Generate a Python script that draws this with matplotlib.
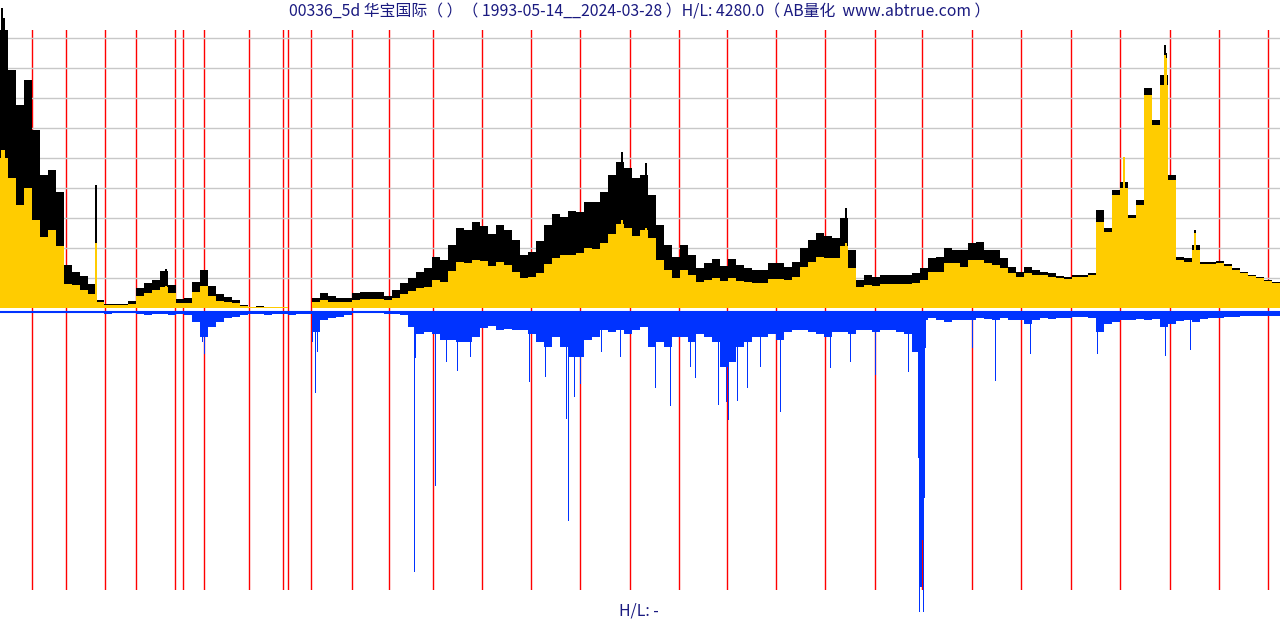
import numpy as np
import matplotlib
matplotlib.use("Agg")
import matplotlib.pyplot as plt

plt.rcParams['font.family'] = ['Noto Sans CJK SC', 'DejaVu Sans']

# 标题和文字
title = "00336_5d 华宝国际（ ）（ 1993-05-14__2024-03-28 ）H/L: 4280.0（ AB量化  www.abtrue.com ）"
footer = "H/L: -"

# 每8根5日K线一组的最高价 / 收盘价
step = 8
high = [
    27.8, 23.8, 20.3, 22.8, 17.8, 13.3, 13.8, 11.6, 4.3, 3.6,
    3.2, 2.4, 0.8, 0.45, 0.45, 0.45, 0.7, 2.0, 2.5, 2.8,
    3.7, 2.3, 0.9, 1.0, 2.6, 3.8, 2.2, 1.4, 1.1, 0.8,
    0.35, 0.15, 0.2, 0.1, 0.08, 0.08, 0.05, 0.05, 0.05, 1.0,
    1.5, 1.2, 1.0, 1.0, 1.5, 1.6, 1.6, 1.6, 1.2, 1.8,
    2.5, 3.0, 3.6, 4.0, 5.1, 4.8, 6.3, 8.0, 7.8, 8.6,
    8.2, 7.4, 8.3, 7.8, 6.8, 5.3, 5.6, 6.7, 8.3, 9.4,
    9.1, 9.7, 9.6, 10.6, 10.6, 11.6, 13.3, 14.6, 14.0, 13.0,
    13.3, 11.3, 8.3, 6.3, 5.1, 6.3, 5.3, 4.0, 4.5, 4.9,
    4.2, 4.9, 4.3, 4.0, 3.8, 3.8, 4.5, 4.5, 4.1, 4.6,
    6.0, 6.8, 7.5, 7.2, 7.0, 9.0, 5.8, 2.8, 3.3, 3.1,
    3.3, 3.3, 3.3, 3.3, 3.5, 4.0, 5.0, 5.1, 6.0, 5.8,
    5.8, 6.5, 6.6, 5.8, 5.8, 5.0, 4.1, 3.6, 4.1, 3.8,
    3.6, 3.5, 3.2, 3.1, 3.3, 3.3, 3.5, 9.8, 8.0, 11.8,
    12.6, 9.3, 10.8, 22.0, 18.8, 23.3, 13.3, 5.1, 5.0, 6.3,
    4.6, 4.6, 4.7, 4.4, 4.0, 3.6, 3.3, 3.1, 2.8, 2.6,
]
close = [
    15.0, 13.0, 10.3, 12.0, 8.8, 7.1, 7.8, 6.2, 2.4, 2.3,
    1.8, 1.4, 0.6, 0.3, 0.3, 0.3, 0.4, 1.2, 1.5, 1.8,
    2.1, 1.5, 0.5, 0.5, 1.6, 2.2, 1.2, 0.7, 0.6, 0.5,
    0.2, 0.1, 0.12, 0.08, 0.06, 0.06, 0.05, 0.05, 0.05, 0.6,
    0.8, 0.6, 0.6, 0.6, 0.8, 0.9, 0.9, 0.9, 0.8, 1.0,
    1.4, 1.7, 2.0, 2.1, 2.8, 2.6, 3.7, 4.6, 4.5, 4.8,
    4.7, 4.2, 4.6, 4.3, 3.6, 3.0, 3.1, 3.5, 4.4, 5.0,
    5.3, 5.3, 5.5, 6.0, 5.9, 6.5, 7.4, 8.4, 8.0, 7.2,
    7.8, 7.0, 4.8, 3.8, 3.0, 3.8, 3.3, 2.6, 2.8, 3.0,
    2.7, 3.0, 2.7, 2.6, 2.5, 2.5, 2.9, 2.9, 2.8, 3.1,
    4.1, 4.6, 5.1, 5.0, 5.0, 6.2, 4.0, 2.1, 2.3, 2.2,
    2.4, 2.4, 2.4, 2.4, 2.5, 2.8, 3.6, 3.6, 4.5, 4.5,
    4.1, 4.8, 4.8, 4.5, 4.3, 4.0, 3.5, 3.1, 3.5, 3.3,
    3.3, 3.1, 3.0, 2.9, 3.1, 3.1, 3.3, 8.6, 7.6, 11.3,
    12.0, 9.0, 10.3, 21.3, 18.3, 22.3, 12.8, 4.8, 4.6, 5.8,
    4.4, 4.4, 4.5, 4.2, 3.8, 3.5, 3.2, 3.0, 2.7, 2.5,
]

# 单根尖峰 (K线序号, 最高, 收盘)
spike_x = [1, 3, 95, 165, 621, 645, 845, 1123, 1164, 1165, 1194]
spike_hi = [30.0, 29.0, 12.3, 3.9, 15.6, 14.5, 10.0, 15.1, 26.3, 25.5, 7.8]
spike_cl = [15.8, 15.8, 6.5, 2.2, 8.8, 8.0, 6.5, 15.1, 25.3, 25.0, 7.5]

# 成交量 (每8根一组)
vol = [
    1, 1, 0.5, 1, 0.5, 0.5, 0.5, 0.5, 1, 0.5,
    0.5, 1, 1, 2, 1, 1, 1, 2, 3, 2,
    2, 3, 2, 3, 10, 25, 15, 10, 6, 5,
    3, 2, 2, 3, 2, 2, 3, 2, 2, 20,
    8, 6, 5, 3, 1, 1, 1, 1, 2, 2,
    3, 15, 22, 20, 22, 28, 28, 30, 30, 25,
    16, 14, 18, 17, 18, 18, 22, 30, 35, 25,
    35, 45, 45, 28, 25, 18, 20, 18, 22, 18,
    15, 35, 30, 35, 25, 25, 30, 22, 25, 30,
    55, 50, 35, 30, 25, 25, 22, 28, 20, 18,
    18, 20, 22, 25, 20, 20, 22, 18, 18, 20,
    18, 18, 20, 22, 40, 8, 6, 8, 10, 8,
    8, 8, 6, 7, 8, 6, 8, 8, 12, 8,
    6, 7, 6, 6, 5, 5, 6, 20, 12, 10,
    8, 8, 7, 8, 7, 15, 12, 9, 8, 10,
    7, 6, 6, 5, 5, 4, 4, 4, 4, 4,
]
vspike_x = [202, 204, 312, 315, 317, 414, 415, 435, 446, 457, 470, 529, 545,
            566, 568, 574, 580, 601, 620, 655, 670, 690, 695, 718, 726, 728,
            737, 747, 760, 780, 830, 850, 875, 908, 918, 919, 920, 921, 922,
            923, 924, 925, 972, 995, 1030, 1097, 1165, 1190]
vspike_v = [30, 42, 30, 81, 40, 260, 46, 174, 50, 59, 45, 70, 65,
            107, 209, 85, 72, 40, 45, 76, 94, 55, 66, 93, 90, 108,
            89, 76, 55, 100, 56, 50, 63, 60, 146, 300, 275, 275, 228,
            300, 186, 36, 36, 69, 42, 42, 44, 38]

# 每年第一根K线的位置
year_x = [32, 66, 105, 136, 175, 183, 204, 249, 283, 288, 311, 352, 389, 433,
          482, 531, 580, 630, 679, 727, 776, 825, 875, 922, 972, 1021, 1071,
          1120, 1170, 1219, 1268]

n = len(high) * step
edges = np.arange(0, n + 1, step)

W, H = 1280, 620
fig = plt.figure(figsize=(W / 100, H / 100), dpi=100)

# 年份分隔线 (画在最底层)
ax_bg = fig.add_axes([0, (H - 590) / H, 1, 560 / H])
ax_bg.set_xlim(0, n)
for xv in year_x:
    ax_bg.axvline(xv, color='#ff0000', lw=1)
ax_bg.axis('off')

# 价格
ax = fig.add_axes([0, (H - 308) / H, 1, 308 / H])
ax.patch.set_alpha(0)
ax.set_xlim(0, n)
ax.set_ylim(0, 30.8)
ax.set_yticks(np.arange(3, 28, 3))
ax.grid(axis='y', color='#c8c8c8', lw=1)
ax.set_axisbelow(True)
ax.stairs(high, edges, fill=True, color='black', lw=0)
ax.bar(spike_x, spike_hi, width=1.5, align='edge', color='black', lw=0)
ax.stairs(close, edges, fill=True, color='#ffcc00', lw=0)
ax.bar(spike_x, spike_cl, width=1.5, align='edge', color='#ffcc00', lw=0)
ax.tick_params(left=False, bottom=False, labelleft=False, labelbottom=False)
for s in ax.spines.values():
    s.set_visible(False)

# 成交量 (向下)
ax_v = fig.add_axes([0, 0, 1, 310 / H])
ax_v.patch.set_alpha(0)
ax_v.set_xlim(0, n)
ax_v.set_ylim(308, -2)
ax_v.bar(edges[:-1], vol, width=step, align='edge', color='#0033ff', lw=0)
ax_v.bar(vspike_x, vspike_v, width=1.2, align='edge', color='#0033ff', lw=0)
ax_v.axhline(0, color='#0033ff', lw=1.5)
ax_v.axis('off')

fig.text(0.5, 1 - 12 / H, title, ha='center', va='center', fontsize=11.4, color='#1a1a80')
fig.text(639 / W, 1 - 611 / H, footer, ha='center', va='center', fontsize=11.4, color='#1a1a80')

fig.savefig('out.png', dpi=100)
